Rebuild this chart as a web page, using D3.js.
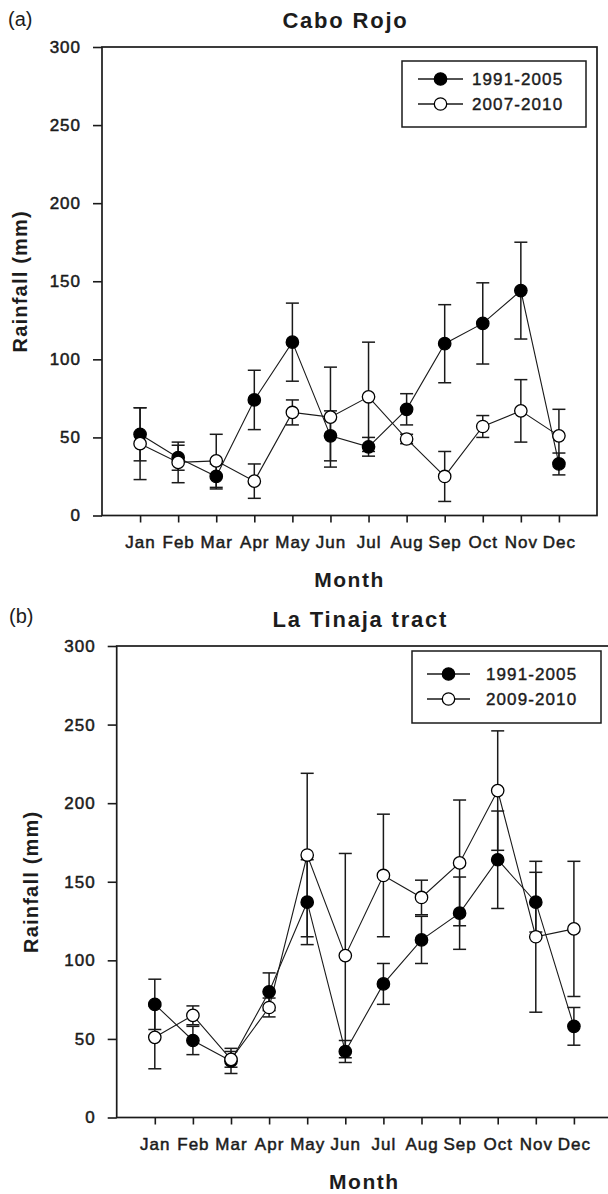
<!DOCTYPE html>
<html>
<head>
<meta charset="utf-8">
<script src="https://cdn.jsdelivr.net/npm/d3@7"></script>
<style>
  html, body { margin: 0; padding: 0; background: #fff; }
  svg { display: block; }
  text { font-family: "Liberation Sans", Arial, sans-serif; fill: #1c1c1c; }
</style>
</head>
<body>
<svg id="chart" width="608" height="1194"></svg>
<script>
// ---------- data ----------
const months = ["Jan","Feb","Mar","Apr","May","Jun","Jul","Aug","Sep","Oct","Nov","Dec"];
const yTicks = [0, 50, 100, 150, 200, 250, 300];

// (a) Cabo Rojo
const caboRojoHist      = [52, 37, 25, 74, 111, 51, 44, 68, 110, 123, 144, 33];
const caboRojoHistErr   = [17,  8,  8, 19,  25, 16,  6, 10,  25,  26,  31,  7];
const caboRojoRecent    = [46, 34, 35, 22,  66, 63, 76, 49,  25,  57,  67, 51];
const caboRojoRecentErr = [23, 13, 17, 11,   8, 32, 35,  3,  16,   7,  20, 17];

// (b) La Tinaja tract
const tinajaHist      = [72, 49, 36, 80, 137, 42,  85, 113, 130, 164, 137,  58];
const tinajaHistErr   = [16,  9,  8, 12,  27,  7,  13,  15,  23,  31,  19,  12];
const tinajaRecent    = [51, 65, 37, 70, 167, 103, 154, 140, 162, 208, 115, 120];
const tinajaRecentErr = [20,  6,  5,  6,  52, 65,  39,  11,  40,  38,  48,  43];

const panels = [
  { tag: "(a)", title: "Cabo Rojo",
    hist: caboRojoHist, histErr: caboRojoHistErr,
    recent: caboRojoRecent, recentErr: caboRojoRecentErr,
    histLabel: "1991-2005", recentLabel: "2007-2010",
    box: {x0: 102, x1: 597, y0: 47, y1: 515.5},
    tagPos: {x: 8, y: 19}, ylabX: 20,
    legend: {x0: 402, x1: 586, y0: 61, y1: 127, e1: 79, e2: 104, l0: 418, l1: 463, tx: 472} },
  { tag: "(b)", title: "La Tinaja tract",
    hist: tinajaHist, histErr: tinajaHistErr,
    recent: tinajaRecent, recentErr: tinajaRecentErr,
    histLabel: "1991-2005", recentLabel: "2009-2010",
    box: {x0: 116.7, x1: 612, y0: 646, y1: 1117.5},
    tagPos: {x: 9, y: 616}, ylabX: 31,
    legend: {x0: 412, x1: 601, y0: 651, y1: 723, e1: 674, e2: 699, l0: 427, l1: 470, tx: 486} }
];

const svg = d3.select("#chart");
const INK = "#1a1a1a";

panels.forEach(p => {
  const b = p.box;
  const g = svg.append("g");
  const x = d3.scalePoint().domain(months).range([b.x0, b.x1]).padding(1);
  const y = d3.scaleLinear().domain([0, 300]).range([b.y1, b.y0]);

  // axes
  const ya = g.append("g").attr("transform", `translate(${b.x0},0)`)
    .call(d3.axisLeft(y).tickValues(yTicks).tickSize(9).tickPadding(12));
  const xa = g.append("g").attr("transform", `translate(0,${b.y1})`)
    .call(d3.axisBottom(x).tickSize(7).tickPadding(13));
  [ya, xa].forEach(a => {
    a.select(".domain").remove();
    a.selectAll(".tick line").attr("stroke", INK).attr("stroke-width", 1.6);
    a.selectAll(".tick text").attr("font-size", 17).attr("letter-spacing", 1)
      .attr("fill", INK).attr("stroke", INK).attr("stroke-width", 0.5)
      .attr("font-family", "'Liberation Sans', Arial, sans-serif");
  });

  // frame
  g.append("rect").attr("x", b.x0).attr("y", b.y0)
    .attr("width", b.x1 - b.x0).attr("height", b.y1 - b.y0)
    .attr("fill", "none").attr("stroke", INK).attr("stroke-width", 1.7);

  // titles
  g.append("text").attr("x", p.tagPos.x).attr("y", p.tagPos.y)
    .attr("dominant-baseline", "central").attr("font-size", 20).text(p.tag);
  g.append("text").attr("x", (b.x0 + b.x1) / 2 - 4).attr("y", b.y0 - 27)
    .attr("dominant-baseline", "central").attr("text-anchor", "middle")
    .attr("font-size", 22).attr("font-weight", "bold").attr("letter-spacing", 1.8)
    .text(p.title);
  g.append("text").attr("transform", `translate(${p.ylabX},${(b.y0 + b.y1) / 2}) rotate(-90)`)
    .attr("dominant-baseline", "central").attr("text-anchor", "middle")
    .attr("font-size", 20).attr("font-weight", "bold").attr("letter-spacing", 1.2)
    .text("Rainfall (mm)");
  g.append("text").attr("x", (b.x0 + b.x1) / 2).attr("y", b.y1 + 63.5)
    .attr("dominant-baseline", "central").attr("text-anchor", "middle")
    .attr("font-size", 21).attr("font-weight", "bold").attr("letter-spacing", 1.5)
    .text("Month");

  const series = [
    { vals: p.hist, errs: p.histErr, fill: "#000" },
    { vals: p.recent, errs: p.recentErr, fill: "#fff" }
  ];
  const line = d3.line().x((d, i) => x(months[i])).y(d => y(d));

  // connecting lines
  series.forEach(s => {
    g.append("path").datum(s.vals).attr("d", line)
      .attr("fill", "none").attr("stroke", INK).attr("stroke-width", 1.1);
  });
  // error bars
  series.forEach(s => {
    const eg = g.append("g").attr("stroke", INK).attr("stroke-width", 1.5).attr("fill", "none");
    s.vals.forEach((v, i) => {
      const cx = x(months[i]);
      const lo = y(v - s.errs[i]), hi = y(v + s.errs[i]);
      eg.append("line").attr("x1", cx).attr("x2", cx).attr("y1", lo).attr("y2", hi);
      eg.append("line").attr("x1", cx - 6.5).attr("x2", cx + 6.5).attr("y1", lo).attr("y2", lo);
      eg.append("line").attr("x1", cx - 6.5).attr("x2", cx + 6.5).attr("y1", hi).attr("y2", hi);
    });
  });
  // markers
  series.forEach(s => {
    g.append("g").selectAll("circle").data(s.vals).join("circle")
      .attr("cx", (d, i) => x(months[i])).attr("cy", d => y(d)).attr("r", 6.2)
      .attr("fill", s.fill).attr("stroke", "#000").attr("stroke-width", 1.3);
  });

  // legend
  const L = p.legend;
  g.append("rect").attr("x", L.x0).attr("y", L.y0).attr("width", L.x1 - L.x0).attr("height", L.y1 - L.y0)
    .attr("fill", "#fff").attr("stroke", INK).attr("stroke-width", 1.5);
  [[L.e1, "#000", p.histLabel], [L.e2, "#fff", p.recentLabel]].forEach(([ey, f, lab]) => {
    g.append("line").attr("x1", L.l0).attr("x2", L.l1).attr("y1", ey).attr("y2", ey)
      .attr("stroke", INK).attr("stroke-width", 1.3);
    g.append("circle").attr("cx", (L.l0 + L.l1) / 2).attr("cy", ey).attr("r", 6.2)
      .attr("fill", f).attr("stroke", "#000").attr("stroke-width", 1.3);
    g.append("text").attr("x", L.tx).attr("y", ey).attr("dominant-baseline", "central")
      .attr("font-size", 17).attr("letter-spacing", 1.1).attr("stroke", INK).attr("stroke-width", 0.4)
      .text(lab);
  });
});
</script>
</body>
</html>
